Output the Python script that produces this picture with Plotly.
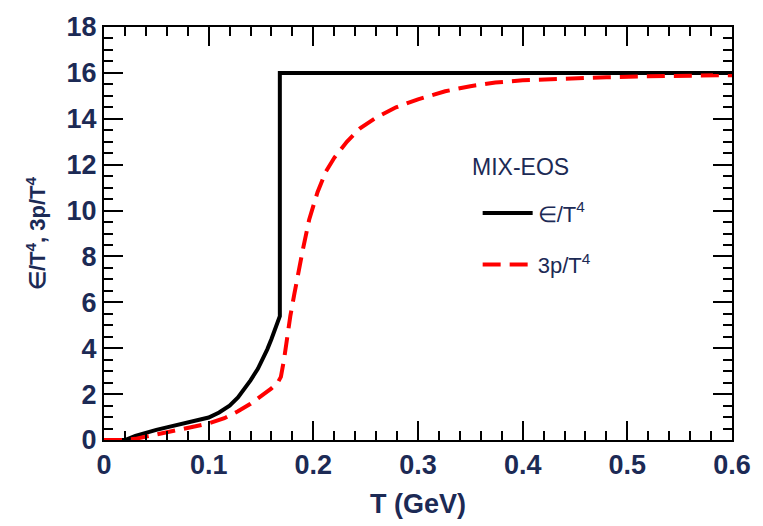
import plotly.graph_objects as go

# energy density e/T^4 (black, solid)
eps_T = [0.0, 0.02, 0.03, 0.04, 0.05, 0.06, 0.07, 0.08, 0.09, 0.10, 0.11, 0.12, 0.128, 0.135, 0.14, 0.147, 0.152, 0.156, 0.16, 0.164, 0.168, 0.168, 0.20, 0.30, 0.40, 0.50, 0.60]
eps_v = [0.0, 0.0, 0.18, 0.32, 0.44, 0.55, 0.65, 0.75, 0.85, 0.98, 1.2, 1.5, 1.85, 2.25, 2.6, 3.1, 3.55, 3.95, 4.4, 4.9, 5.4, 16.0, 16.0, 16.0, 16.0, 16.0, 16.0]

# pressure 3p/T^4 (red, dashed)
p_T = [0.0, 0.02, 0.03, 0.05, 0.07, 0.09, 0.10, 0.115, 0.128, 0.14, 0.15, 0.16, 0.166, 0.169, 0.172, 0.175, 0.178, 0.182, 0.186, 0.19, 0.196, 0.204, 0.212, 0.22, 0.232, 0.245, 0.26, 0.279, 0.30, 0.326, 0.35, 0.374, 0.40, 0.44, 0.48, 0.52, 0.56, 0.60]
p_v = [0.0, 0.0, 0.05, 0.25, 0.45, 0.62, 0.72, 0.95, 1.25, 1.58, 1.9, 2.25, 2.5, 2.75, 3.5, 4.5, 5.4, 6.4, 7.4, 8.3, 9.6, 10.8, 11.7, 12.3, 13.0, 13.6, 14.05, 14.5, 14.85, 15.2, 15.42, 15.58, 15.68, 15.76, 15.81, 15.85, 15.88, 15.9]

navy = "#1c2a55"
font_family = "Liberation Sans, Arial, sans-serif"

fig = go.Figure()
fig.add_trace(go.Scatter(x=eps_T, y=eps_v, mode="lines", line=dict(color="black", width=4),
                         name="∈/T<sup>4</sup>", legendgroup="a"))
fig.add_trace(go.Scatter(x=p_T, y=p_v, mode="lines", line=dict(color="#ff0000", width=4, dash="18px,9px"),
                         name="3p/T<sup>4</sup>", legendgroup="b"))

fig.update_layout(
    template="simple_white",
    width=763, height=526,
    margin=dict(l=104, r=23, t=17, b=74),
    plot_bgcolor="white",
    legend=dict(x=0.595, y=0.6, xanchor="left", yanchor="top",
                font=dict(family=font_family, size=22, color=navy),
                bgcolor="rgba(0,0,0,0)", itemwidth=50, tracegroupgap=20),
    annotations=[dict(text="MIX-EOS", xref="paper", yref="paper", x=0.583, y=0.66,
                      xanchor="left", yanchor="middle", showarrow=False,
                      font=dict(family=font_family, size=23, color=navy))],
)

axis_common = dict(
    showline=True, linecolor="black", linewidth=2, mirror="allticks",
    ticks="inside", ticklen=19, tickwidth=2, tickcolor="black",
    showgrid=False, zeroline=False,
    tickfont=dict(family=font_family, size=27, color=navy, weight="bold"),
)

fig.update_xaxes(range=[0, 0.6], dtick=0.1,
                 minor=dict(ticks="inside", ticklen=9, tickwidth=2, tickcolor="black", dtick=0.02),
                 title=dict(text="T (GeV)", font=dict(family=font_family, size=27, color=navy, weight="bold")),
                 **axis_common)
fig.update_yaxes(range=[0, 18], dtick=2,
                 minor=dict(ticks="inside", ticklen=9, tickwidth=2, tickcolor="black", dtick=0.5),
                 title=dict(text="∈/T<sup>4</sup>, 3p/T<sup>4</sup>",
                            font=dict(family=font_family, size=22, color=navy, weight="bold")),
                 **axis_common)

fig.write_html("out.html")
